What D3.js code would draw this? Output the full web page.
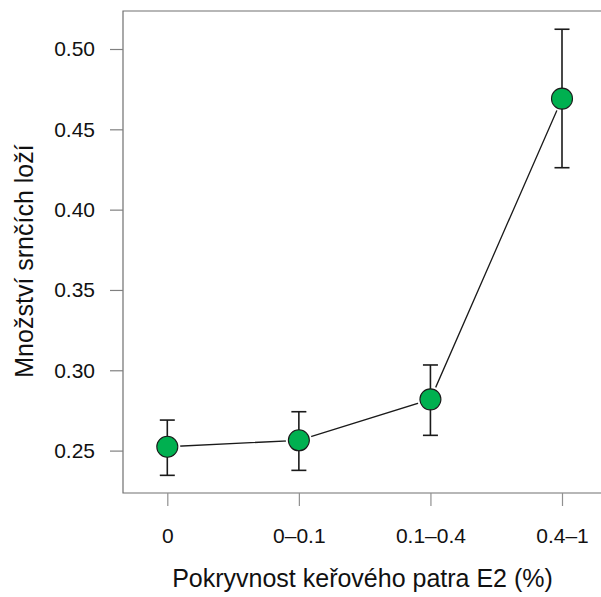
<!DOCTYPE html>
<html>
<head>
<meta charset="utf-8">
<script src="https://cdn.jsdelivr.net/npm/d3@7"></script>
<style>
  body { margin: 0; background: #fff; }
  text { font-family: "Liberation Sans", Arial, sans-serif; fill: #111; }
</style>
</head>
<body>
<div id="chart"></div>
<script>
// data
var categories = ["0", "0–0.1", "0.1–0.4", "0.4–1"];
var means = [0.2524, 0.2564, 0.2819, 0.4691];
var upper = [0.2690, 0.2742, 0.3033, 0.5123];
var lower = [0.2346, 0.2377, 0.2595, 0.4261];
var yTicks = [0.25, 0.30, 0.35, 0.40, 0.45, 0.50];

var svg_w = 601, svg_h = 597;
var box = {left: 123, top: 11, right: 606, bottom: 493};

var svg = d3.select("#chart").append("svg")
  .attr("width", svg_w)
  .attr("height", svg_h);

var x = d3.scalePoint()
  .domain(categories)
  .range([167.3, 562]);

var y = d3.scaleLinear()
  .domain([0.25, 0.50])
  .range([450.6, 49]);

// frame (right side runs off the picture)
svg.append("path")
  .attr("d", "M" + box.right + "," + box.top + "H" + box.left + "V" + box.bottom + "H" + box.right)
  .attr("fill", "none")
  .attr("stroke", "#707070")
  .attr("stroke-width", 1.2);

// y axis
var yAxis = d3.axisLeft(y)
  .tickValues(yTicks)
  .tickFormat(d3.format(".2f"))
  .tickSize(13)
  .tickPadding(15);
var gy = svg.append("g")
  .attr("transform", "translate(" + box.left + ",0)")
  .call(yAxis);
gy.select(".domain").remove();
gy.selectAll("line").attr("stroke", "#808080").attr("stroke-width", 1.2);
gy.selectAll("text").style("font-size", "21px").attr("fill", "#111");

// x axis
var xAxis = d3.axisBottom(x)
  .tickSize(13)
  .tickPadding(22);
var gx = svg.append("g")
  .attr("transform", "translate(0," + box.bottom + ")")
  .call(xAxis);
gx.select(".domain").remove();
gx.selectAll("line").attr("stroke", "#909090").attr("stroke-width", 1.2);
gx.selectAll("text").style("font-size", "21px").attr("fill", "#111");

// axis titles
svg.append("text")
  .attr("x", 362.5)
  .attr("y", 586.5)
  .attr("text-anchor", "middle")
  .style("font-size", "25px")
  .text("Pokryvnost keřového patra E2 (%)");

svg.append("text")
  .attr("transform", "translate(33,261) rotate(-90)")
  .attr("text-anchor", "middle")
  .style("font-size", "25px")
  .text("Množství srnčích loží");

var idx = d3.range(categories.length);

// connecting line
var line = d3.line()
  .x(function(i) { return x(categories[i]); })
  .y(function(i) { return y(means[i]); });
svg.append("path")
  .datum(idx)
  .attr("d", line)
  .attr("fill", "none")
  .attr("stroke", "#1a1a1a")
  .attr("stroke-width", 1.3);

// white halo so the line stops short of the markers
svg.selectAll("circle.halo")
  .data(idx)
  .enter()
  .append("circle")
  .attr("class", "halo")
  .attr("cx", function(i) { return x(categories[i]); })
  .attr("cy", function(i) { return y(means[i]); })
  .attr("r", 13)
  .attr("fill", "#fff");

// error bars
var eb = svg.selectAll("g.err")
  .data(idx)
  .enter()
  .append("g")
  .attr("class", "err")
  .attr("stroke", "#1a1a1a")
  .attr("stroke-width", 1.6);
eb.append("line")
  .attr("x1", function(i) { return x(categories[i]); })
  .attr("x2", function(i) { return x(categories[i]); })
  .attr("y1", function(i) { return y(upper[i]); })
  .attr("y2", function(i) { return y(lower[i]); });
eb.append("line")
  .attr("x1", function(i) { return x(categories[i]) - 7.5; })
  .attr("x2", function(i) { return x(categories[i]) + 7.5; })
  .attr("y1", function(i) { return y(upper[i]); })
  .attr("y2", function(i) { return y(upper[i]); });
eb.append("line")
  .attr("x1", function(i) { return x(categories[i]) - 7.5; })
  .attr("x2", function(i) { return x(categories[i]) + 7.5; })
  .attr("y1", function(i) { return y(lower[i]); })
  .attr("y2", function(i) { return y(lower[i]); });

// markers
svg.selectAll("circle.pt")
  .data(idx)
  .enter()
  .append("circle")
  .attr("class", "pt")
  .attr("cx", function(i) { return x(categories[i]); })
  .attr("cy", function(i) { return y(means[i]); })
  .attr("r", 10.5)
  .attr("fill", "#00b050")
  .attr("stroke", "#1a1a1a")
  .attr("stroke-width", 1.1);
</script>
</body>
</html>
